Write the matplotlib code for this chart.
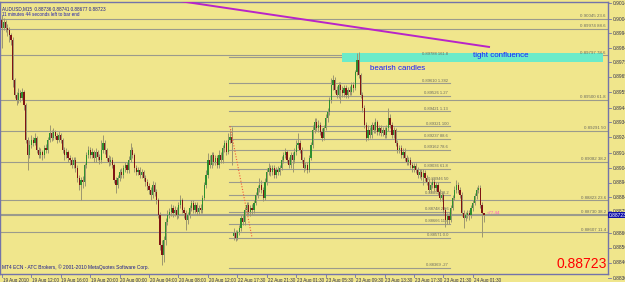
import matplotlib
matplotlib.use("Agg")
import matplotlib.pyplot as plt
import matplotlib.transforms as mtransforms
from matplotlib.patches import Rectangle

# ---------------- data (prices in points above 0.88000, 1 point = 0.00001) ----------------
BASE = 0.88
POINT = 1e-5

open_pts = [
    2035, 1981, 2021, 1981, 1967, 1934, 1900, 1631, 1531, 1497,
    1544, 1510, 1551, 1463, 1228, 1127, 1195, 1228, 1208, 1242,
    1161, 1127, 1148, 1127, 1174, 1161, 1228, 1275, 1242, 1282,
    1255, 1228, 1262, 1228, 1161, 1127, 1148, 1107, 1094, 1060,
    1094, 1040, 973, 926, 959, 946, 1060, 1127, 1161, 1127,
    1148, 1107, 1148, 1114, 1094, 1161, 1208, 1161, 1107, 1080,
    1094, 1060, 959, 926, 973, 1013, 993, 1040, 1060, 1027,
    1094, 1161, 1127, 1040, 1013, 1027, 993, 1013, 973, 946,
    919, 892, 859, 926, 879, 825, 724, 523, 455, 556,
    677, 724, 744, 771, 738, 758, 724, 791, 825, 758,
    738, 691, 724, 771, 805, 758, 791, 744, 771, 758,
    838, 926, 993, 1094, 1060, 1127, 1080, 1107, 1060, 1127,
    1094, 1174, 1208, 1148, 1228, 1248, 583, 603, 570, 610,
    637, 704, 677, 758, 791, 744, 771, 758, 805, 859,
    906, 926, 892, 838, 946, 1013, 1040, 1013, 1040, 993,
    1027, 1013, 1040, 1094, 1127, 1148, 1094, 1060, 1127, 1094,
    1148, 1195, 1208, 1161, 1094, 1040, 1060, 1027, 1107, 1195,
    1295, 1349, 1309, 1329, 1282, 1242, 1309, 1376, 1416, 1497,
    1598, 1631, 1564, 1531, 1598, 1564, 1544, 1578, 1531, 1564,
    1551, 1598, 1578, 1685, 1766, 1665, 1531, 1443, 1329, 1242,
    1295, 1262, 1329, 1295, 1349, 1282, 1309, 1275, 1295, 1262,
    1309, 1376, 1329, 1262, 1295, 1208, 1161, 1174, 1127, 1148,
    1107, 1080, 1094, 1060, 1040, 1053, 1027, 993, 1013, 980,
    1006, 973, 946, 892, 926, 946, 906, 926, 879, 838,
    859, 758, 691, 717, 691, 771, 838, 892, 926, 892,
    859, 738, 704, 724, 738, 724, 771, 805, 852, 892,
    906, 791, 736,
]
high_pts = [
    2068, 2048, 2035, 2008, 1988, 1947, 1920, 1645, 1551, 1578,
    1564, 1578, 1564, 1477, 1248, 1228, 1262, 1248, 1275, 1255,
    1181, 1174, 1161, 1195, 1201, 1248, 1329, 1295, 1309, 1295,
    1275, 1289, 1275, 1242, 1181, 1174, 1161, 1127, 1114, 1114,
    1114, 1060, 993, 980, 986, 1074, 1148, 1188, 1181, 1174,
    1161, 1174, 1161, 1134, 1228, 1262, 1228, 1174, 1127, 1121,
    1114, 1074, 980, 993, 1033, 1040, 1060, 1080, 1080, 1121,
    1208, 1181, 1141, 1060, 1047, 1047, 1033, 1027, 993, 966,
    939, 912, 953, 946, 899, 838, 744, 556, 583, 704,
    758, 771, 798, 791, 785, 778, 812, 859, 838, 778,
    758, 744, 791, 825, 825, 812, 812, 791, 798, 859,
    946, 1027, 1141, 1127, 1148, 1148, 1127, 1127, 1161, 1148,
    1195, 1228, 1228, 1275, 1295, 1316, 637, 623, 623, 657,
    724, 731, 778, 812, 812, 791, 798, 825, 879, 926,
    973, 959, 912, 973, 1040, 1074, 1060, 1060, 1060, 1047,
    1053, 1060, 1121, 1148, 1174, 1161, 1114, 1148, 1148, 1174,
    1228, 1275, 1228, 1181, 1114, 1080, 1080, 1127, 1215, 1329,
    1376, 1376, 1363, 1349, 1309, 1329, 1403, 1443, 1517, 1645,
    1665, 1652, 1591, 1618, 1618, 1591, 1598, 1598, 1584, 1591,
    1618, 1618, 1699, 1813, 1820, 1678, 1551, 1463, 1349, 1329,
    1316, 1349, 1349, 1376, 1363, 1329, 1329, 1316, 1316, 1329,
    1443, 1403, 1349, 1316, 1309, 1228, 1195, 1195, 1174, 1174,
    1127, 1114, 1114, 1080, 1074, 1074, 1047, 1033, 1033, 1033,
    1027, 993, 966, 946, 973, 966, 946, 946, 899, 879,
    879, 778, 738, 738, 791, 859, 919, 959, 946, 912,
    879, 758, 744, 758, 758, 791, 825, 872, 912, 926,
    926, 812, 741,
]
low_pts = [
    1846, 1967, 1954, 1927, 1887, 1867, 1584, 1510, 1463, 1477,
    1484, 1497, 1430, 1208, 1027, 1107, 1174, 1188, 1195, 1141,
    1107, 1107, 1094, 1107, 1141, 1141, 1215, 1221, 1228, 1235,
    1208, 1215, 1208, 1141, 1094, 1107, 1080, 1060, 1040, 1040,
    1013, 946, 892, 825, 906, 919, 1040, 1107, 1107, 1107,
    1080, 1080, 1094, 1067, 1074, 1141, 1134, 1087, 1053, 1060,
    1040, 939, 872, 906, 953, 973, 973, 1013, 1006, 1006,
    1080, 1107, 1013, 993, 993, 973, 973, 953, 919, 892,
    865, 825, 838, 852, 798, 704, 489, 388, 408, 523,
    657, 704, 717, 711, 717, 697, 704, 771, 738, 704,
    623, 664, 704, 751, 738, 738, 724, 724, 738, 738,
    825, 906, 973, 1040, 1040, 1060, 1060, 1040, 1040, 1074,
    1074, 1148, 1127, 1134, 1208, 1060, 556, 549, 556, 590,
    617, 657, 657, 738, 724, 717, 731, 738, 791, 838,
    879, 872, 818, 825, 926, 993, 986, 993, 973, 973,
    993, 993, 1027, 1074, 1107, 1074, 1040, 1040, 1013, 1074,
    1127, 1174, 1141, 1074, 1013, 1027, 1006, 1013, 1094, 1174,
    1275, 1289, 1282, 1262, 1221, 1228, 1295, 1349, 1396, 1477,
    1564, 1544, 1510, 1510, 1477, 1517, 1517, 1510, 1510, 1531,
    1531, 1551, 1564, 1665, 1645, 1510, 1416, 1309, 1221, 1228,
    1242, 1242, 1275, 1275, 1262, 1262, 1255, 1255, 1242, 1242,
    1289, 1309, 1242, 1242, 1188, 1141, 1141, 1107, 1107, 1087,
    1060, 1060, 1040, 1013, 1013, 1006, 973, 973, 959, 926,
    953, 926, 872, 872, 906, 885, 885, 859, 818, 818,
    738, 644, 664, 664, 677, 758, 825, 872, 872, 838,
    717, 637, 684, 704, 691, 704, 751, 791, 832, 872,
    771, 576, 677,
]
close_pts = [
    1981, 2021, 1981, 1967, 1934, 1900, 1631, 1531, 1497, 1544,
    1510, 1551, 1463, 1228, 1127, 1195, 1228, 1208, 1242, 1161,
    1127, 1148, 1127, 1174, 1161, 1228, 1275, 1242, 1282, 1255,
    1228, 1262, 1228, 1161, 1127, 1148, 1107, 1094, 1060, 1094,
    1040, 973, 926, 959, 946, 1060, 1127, 1161, 1127, 1148,
    1107, 1148, 1114, 1094, 1161, 1208, 1161, 1107, 1080, 1094,
    1060, 959, 926, 973, 1013, 993, 1040, 1060, 1027, 1094,
    1161, 1127, 1040, 1013, 1027, 993, 1013, 973, 946, 919,
    892, 859, 926, 879, 825, 724, 523, 455, 556, 677,
    724, 744, 771, 738, 758, 724, 791, 825, 758, 738,
    691, 724, 771, 805, 758, 791, 744, 771, 758, 838,
    926, 993, 1094, 1060, 1127, 1080, 1107, 1060, 1127, 1094,
    1174, 1208, 1148, 1228, 1248, 1208, 603, 570, 610, 637,
    704, 677, 758, 791, 744, 771, 758, 805, 859, 906,
    926, 892, 838, 946, 1013, 1040, 1013, 1040, 993, 1027,
    1013, 1040, 1094, 1127, 1148, 1094, 1060, 1127, 1094, 1148,
    1195, 1208, 1161, 1094, 1040, 1060, 1027, 1107, 1195, 1295,
    1349, 1309, 1329, 1282, 1242, 1309, 1376, 1416, 1497, 1598,
    1631, 1564, 1531, 1598, 1564, 1544, 1578, 1531, 1564, 1551,
    1598, 1578, 1685, 1766, 1665, 1531, 1443, 1329, 1242, 1295,
    1262, 1329, 1295, 1349, 1282, 1309, 1275, 1295, 1262, 1309,
    1376, 1329, 1262, 1295, 1208, 1161, 1174, 1127, 1148, 1107,
    1080, 1094, 1060, 1040, 1053, 1027, 993, 1013, 980, 1006,
    973, 946, 892, 926, 946, 906, 926, 879, 838, 859,
    758, 691, 717, 691, 771, 838, 892, 926, 892, 859,
    738, 704, 724, 738, 724, 771, 805, 852, 892, 906,
    791, 736, 723,
]

x_labels = ["19 Aug 2010", "19 Aug 12:00", "19 Aug 16:00", "19 Aug 20:00",
            "20 Aug 00:00", "20 Aug 04:00", "20 Aug 08:00", "20 Aug 12:00",
            "22 Aug 17:30", "22 Aug 21:30", "23 Aug 01:30", "23 Aug 05:30",
            "23 Aug 09:30", "23 Aug 13:30", "23 Aug 17:30", "23 Aug 21:30",
            "24 Aug 01:30"]
x_label_bars = [0, 16, 32, 48, 64, 80, 96, 112, 128, 144, 160, 176,
                192, 208, 224, 240, 256]

price_ticks = [0.90149, 0.90041, 0.89947, 0.89846, 0.89752, 0.89652, 0.89551,
               0.89443, 0.89349, 0.89248, 0.89141, 0.89040, 0.88940, 0.88845,
               0.88750, 0.88603, 0.88503, 0.88402, 0.88301]

fib_full_prices = [0.90045, 0.89974, 0.89797, 0.89500, 0.89291, 0.89082,
                   0.88823, 0.88730, 0.88607]
fib_full_levels = ["23.6", "88.6", "78.6", "61.8", "50", "38.2", "23.6", "38.2", "11.4"]

fib_ext_prices = [0.89788, 0.89610, 0.89526, 0.89421, 0.89321, 0.89237, 0.89162,
                  0.89036, 0.88946, 0.88858, 0.88748, 0.88666, 0.88571, 0.88369]
fib_ext_levels = ["161.8", "1.382", "1.27", "1.13", "100", "88.6", "78.6",
                  "61.8", "50", "38.2", "23.6", "11.4", "0.0", "-27"]
fib_ext_bars = [123.5, 243.6]

fib_anchor_bars = [124, 136]
fib_anchor_prices = [0.89321, 0.88571]

trend_bars = [96.8, 265.3]
trend_prices = [0.90162, 0.89853]

zone_bars = [184.9, 326.7]
zone_prices = [0.89752, 0.89813]

current_price = 0.88723
ohlc_text = "AUDUSD,M15  0.88736 0.88741 0.88677 0.88723"

# ---------------- styling ----------------
BG = "#F0E68C"
BULL = "#2f8f2f"
BEAR = "#7f1414"
WICK = "#9c9670"
GRID = "#9b9b8c"
FRAME = "#7373aa"
NAVY = "#1c1c8c"
FONT = "Liberation Sans"

W, H = 625, 282
fig = plt.figure(figsize=(W / 100, H / 100), dpi=100)
fig.patch.set_facecolor(BG)
ax = fig.add_axes([0, 8 / H, 608 / W, 272 / H])
ax.set_facecolor(BG)

px_per_bar = 1.84
ax.set_xlim(-1, 608 / px_per_bar - 1)
ax.set_ylim(BASE + 328 * POINT, BASE + 2156 * POINT)
for s in ax.spines.values():
    s.set_color(FRAME)
    s.set_linewidth(1.0)
ax.set_xticks([])
ax.set_yticks([])

n = len(close_pts)
o = [BASE + v * POINT for v in open_pts]
h = [BASE + v * POINT for v in high_pts]
l = [BASE + v * POINT for v in low_pts]
c = [BASE + v * POINT for v in close_pts]

# full width fib lines
for p, lev in zip(fib_full_prices, fib_full_levels):
    ax.axhline(p, color=GRID, lw=0.8, zorder=1)
    ax.text(606 / px_per_bar - 1, p + 4 * POINT, f"{p:.5f} {lev}", ha="right", va="bottom",
            fontsize=3.2, color="#6a6a60", family=FONT, zorder=2)

# current bid line
ax.axhline(current_price, color=GRID, lw=0.8, zorder=1)

# extension fib lines
for p, lev in zip(fib_ext_prices, fib_ext_levels):
    ax.plot(fib_ext_bars, [p, p], color=GRID, lw=0.8, zorder=1)
    ax.text(fib_ext_bars[1] - 1.0, p + 4 * POINT, f"{p:.5f} {lev}", ha="right", va="bottom",
            fontsize=3.0, color="#6a6a60", family=FONT, zorder=2)

# zone rectangle
ax.add_patch(Rectangle((zone_bars[0], zone_prices[0]), zone_bars[1] - zone_bars[0],
                       zone_prices[1] - zone_prices[0], facecolor="#6CEBC9",
                       edgecolor="none", zorder=1.5))

# candles
ax.vlines(range(n), l, h, color=WICK, lw=0.7, zorder=3)
for i in range(n):
    lo_b = min(o[i], c[i])
    hi_b = max(o[i], c[i])
    col = BULL if c[i] >= o[i] else BEAR
    ax.bar(i, max(hi_b - lo_b, 1.5 * POINT), bottom=lo_b, width=0.66,
           color=col, edgecolor="none", zorder=4)

# trend line and fib anchor line
ax.plot(trend_bars, trend_prices, color="#B824C8", lw=1.4, zorder=5, solid_capstyle="butt")
ax.plot(fib_anchor_bars, fib_anchor_prices, color="#F05A3C", lw=0.8, ls=(0, (1, 1.5)), zorder=5)

# annotations
ax.text(256.1, 0.89799, "tight confluence", color="#1a1aff", fontsize=5.7, family=FONT,
        ha="left", va="center", zorder=6)
ax.text(200.1, 0.89709, "bearish candles", color="#1a1aff", fontsize=5.7, family=FONT,
        ha="left", va="center", zorder=6)
ax.text(263.3, current_price + 12 * POINT, "<77.44", color="#ff4fc8", fontsize=3.2,
        family=FONT, ha="left", va="center", zorder=6)

# header texts
ax.text(0.004, 0.986, ohlc_text, transform=ax.transAxes, fontsize=3.3, color=NAVY,
        family=FONT, ha="left", va="top", zorder=7)
ax.text(0.004, 0.962, "11 minutes 44 seconds left to bar end", transform=ax.transAxes,
        fontsize=3.3, color="#2020b0", family=FONT, ha="left", va="top", zorder=7)
ax.text(0.004, 0.016, "MT4 ECN - ATC Brokers, \u00a9 2001-2010 MetaQuotes Software Corp.",
        transform=ax.transAxes, fontsize=3.5, color=NAVY, family=FONT, ha="left",
        va="bottom", zorder=7)
ax.text(0.998, 0.01, f"{current_price:.5f}", transform=ax.transAxes, fontsize=10,
        color="#ff0000", family=FONT, ha="right", va="bottom", zorder=7)

# right price scale
blend_y = mtransforms.blended_transform_factory(ax.transAxes, ax.transData)
for p in price_ticks:
    ax.plot([1.0, 1.005], [p, p], transform=blend_y, color=FRAME, lw=0.6, clip_on=False)
    ax.text(1.007, p, f"{p:.5f}", transform=blend_y, fontsize=3.5, color="#303050",
            family=FONT, ha="left", va="center", clip_on=False)
ax.text(1.002, current_price, f"{current_price:.5f}", transform=blend_y, fontsize=3.5,
        color="white", family=FONT, ha="left", va="center", clip_on=False, zorder=8,
        bbox=dict(boxstyle="square,pad=0.15", facecolor="#1010a8", edgecolor="none"))

# bottom time scale
blend_x = mtransforms.blended_transform_factory(ax.transData, ax.transAxes)
for b, lab in zip(x_label_bars, x_labels):
    ax.plot([b, b], [0, -0.012], transform=blend_x, color=FRAME, lw=0.6, clip_on=False)
    ax.text(b + 0.4, -0.013, lab, transform=blend_x, fontsize=3.3, color="#303050",
            family=FONT, ha="left", va="top", clip_on=False)

fig.savefig("out.png", dpi=100, facecolor=BG)
